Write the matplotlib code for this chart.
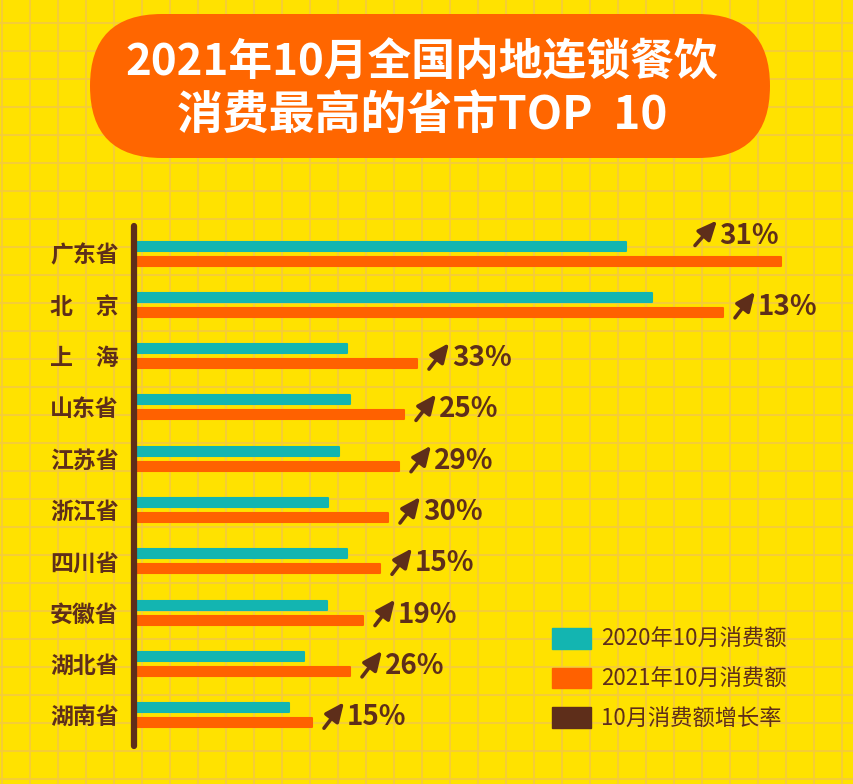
import matplotlib
matplotlib.use("Agg")
import matplotlib.pyplot as plt
from matplotlib.patches import FancyBboxPatch, Patch
from matplotlib.transforms import offset_copy

plt.rcParams['font.family'] = ['Noto Sans CJK SC', 'DejaVu Sans']

# ---------------- data ----------------
provinces = ["广东省", "北\u3000京", "上\u3000海", "山东省", "江苏省",
             "浙江省", "四川省", "安徽省", "湖北省", "湖南省"]
spend_2020 = [489, 515, 210, 213, 202, 191, 210, 190, 167, 152]
spend_2021 = [644, 586, 280, 267, 262, 251, 243, 226, 213, 175]
growth = ["31%", "13%", "33%", "25%", "29%", "30%", "15%", "19%", "26%", "15%"]
title_lines = ["2021年10月全国内地连锁餐饮", "消费最高的省市TOP  10"]
legend_labels = ["2020年10月消费额", "2021年10月消费额", "10月消费额增长率"]

# ---------------- style ----------------
BG = "#FFE200"
GRID = "#F5CB3C"
TEAL = "#13B5B1"
ORANGE = "#FF6100"
BROWN = "#5E2E1A"

W, H = 854, 784
fig = plt.figure(figsize=(W / 100, H / 100), dpi=100, facecolor=BG)

# background axes in pixel coordinates
bg = fig.add_axes([0, 0, 1, 1], zorder=0)
bg.set_xlim(0, W)
bg.set_ylim(H, 0)
bg.axis("off")
bg.set_facecolor(BG)
for gx in range(2, W, 28):
    bg.axvline(gx, color=GRID, lw=1.3, zorder=0)
for gy in range(23, H, 28):
    bg.axhline(gy, color=GRID, lw=1.3, zorder=0)

box = FancyBboxPatch((90, 14), 680, 144, boxstyle="round,pad=0,rounding_size=72",
                     facecolor="#FF6600", edgecolor="none", zorder=2)
bg.add_patch(box)
bg.text(422, 63, title_lines[0], ha="center", va="center", color="white",
        fontsize=31.5, fontweight="heavy", fontstyle="italic", zorder=3)
bg.text(422, 116, title_lines[1], ha="center", va="center", color="white",
        fontsize=33, fontweight="heavy", fontstyle="italic", zorder=3)

# main axes: x unit = 1 pixel, row spacing 51.3 px
left_px, right_px = 134, W
top_px, bot_px = 226, 746
ax = fig.add_axes([left_px / W, 1 - bot_px / H, (right_px - left_px) / W,
                   (bot_px - top_px) / H], zorder=1)
ax.set_facecolor("none")
row = 51.3
y0 = 253.5
ax.set_xlim(-3, right_px - left_px - 3)
ax.set_ylim((bot_px - y0) / row, (top_px - y0) / row)

ys = list(range(len(provinces)))
off = 7.5 / row
bh = 9.0 / row
ax.barh([y - off for y in ys], spend_2020, height=bh, color=TEAL,
        edgecolor=TEAL, linewidth=1.5, joinstyle="round", zorder=2)
ax.barh([y + off for y in ys], spend_2021, height=bh, color=ORANGE,
        edgecolor=ORANGE, linewidth=1.5, joinstyle="round", zorder=2)

for i, (v, g) in enumerate(zip(spend_2021, growth)):
    if i == 0:
        tail = (-86, 8)
        head = (-64, 33)
        txt = (-62, 17)
    else:
        tail = (12, -13)
        head = (32, 13)
        txt = (35, -2)
    t_tail = offset_copy(ax.transData, fig, x=tail[0], y=tail[1], units="dots")
    t_head = offset_copy(ax.transData, fig, x=head[0], y=head[1], units="dots")
    t_txt = offset_copy(ax.transData, fig, x=txt[0], y=txt[1], units="dots")
    ax.annotate("", xy=(v, i), xycoords=t_head, xytext=(v, i), textcoords=t_tail,
                arrowprops=dict(arrowstyle="-|>,head_length=1.0,head_width=0.45",
                                color=BROWN, lw=2.6, mutation_scale=11.5,
                                shrinkA=0, shrinkB=0), zorder=3)
    ax.text(v, i, g, transform=t_txt, ha="left", va="center", color=BROWN,
            fontsize=20, fontweight="bold", zorder=3)

ax.set_yticks(ys)
ax.set_yticklabels(provinces, fontsize=16.5, fontweight="bold", color=BROWN)
ax.tick_params(axis="y", length=0, pad=11)
ax.set_xticks([])
for s in ["top", "right", "bottom"]:
    ax.spines[s].set_visible(False)
ax.spines["left"].set_color(BROWN)
ax.spines["left"].set_linewidth(4.5)
ax.spines["left"].set_capstyle("round")

handles = [Patch(facecolor=c, edgecolor=c, joinstyle="round", linewidth=1)
           for c in (TEAL, ORANGE, BROWN)]
leg = fig.legend(handles, legend_labels, loc="upper left",
                 bbox_to_anchor=(532 / W, 1 - 608 / H), frameon=False,
                 fontsize=16, handlelength=1.75, handleheight=1.05,
                 handletextpad=0.45, labelspacing=0.75, labelcolor=BROWN)

fig.savefig("out.png", dpi=100, facecolor=BG)
